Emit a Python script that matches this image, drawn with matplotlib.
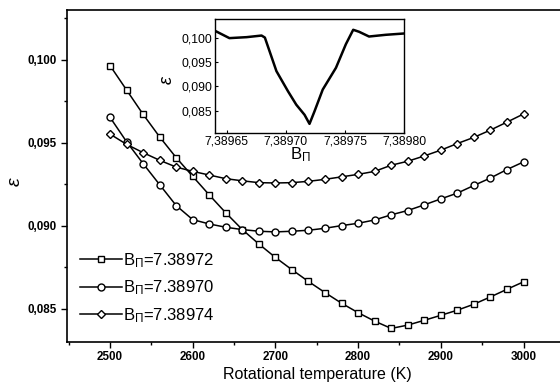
import matplotlib
matplotlib.use("Agg")
import matplotlib.pyplot as plt
from matplotlib.ticker import MultipleLocator, FuncFormatter

plt.rcParams['font.family'] = ['Liberation Sans', 'DejaVu Sans']
plt.rcParams['mathtext.fontset'] = 'custom'
plt.rcParams['mathtext.rm'] = 'Liberation Sans'
plt.rcParams['mathtext.it'] = 'Liberation Sans:italic'

temperature = list(range(2500, 3001, 20))

eps_b72 = [0.09965, 0.09818, 0.09671, 0.09535, 0.09410, 0.09297, 0.09185, 0.09077,
           0.08976, 0.08889, 0.08808, 0.08734, 0.08663, 0.08596, 0.08532, 0.08475,
           0.08424, 0.08380, 0.08400, 0.08429, 0.08459, 0.08490, 0.08526, 0.08570,
           0.08616, 0.08661]
eps_b70 = [0.09653, 0.09506, 0.09374, 0.09247, 0.09121, 0.09036, 0.09010, 0.08990,
           0.08976, 0.08966, 0.08962, 0.08966, 0.08972, 0.08984, 0.09000, 0.09014,
           0.09034, 0.09065, 0.09091, 0.09125, 0.09161, 0.09196, 0.09242, 0.09287,
           0.09338, 0.09384]
eps_b74 = [0.09552, 0.09490, 0.09440, 0.09394, 0.09353, 0.09327, 0.09305, 0.09283,
           0.09270, 0.09259, 0.09257, 0.09259, 0.09267, 0.09279, 0.09294, 0.09309,
           0.09327, 0.09364, 0.09388, 0.09420, 0.09455, 0.09495, 0.09532, 0.09576,
           0.09624, 0.09673]
labels = [r'$\mathrm{B}_{\Pi}$=7.38972', r'$\mathrm{B}_{\Pi}$=7.38970', r'$\mathrm{B}_{\Pi}$=7.38974']

inset_b = [7.389640, 7.3896522, 7.3896668, 7.3896794, 7.3896822, 7.389692, 7.3897018,
           7.3897088, 7.3897158, 7.389720, 7.3897242, 7.3897312, 7.3897424, 7.3897508,
           7.389757, 7.389762, 7.3897704, 7.3897845, 7.389800]
inset_eps = [0.10138, 0.09988, 0.10008, 0.10041, 0.10000, 0.09312, 0.08899, 0.08624,
             0.08417, 0.08231, 0.08486, 0.08934, 0.09380, 0.09864, 0.10159, 0.10118,
             0.10021, 0.10056, 0.10083]

W, H = 560, 386
fig = plt.figure(figsize=(W / 100, H / 100), dpi=100)

x0, x1 = 2448, 3080
px_per_k = 0.827
left_px, bottom_px, top_px = 67, 341.7, 10
right_px = left_px + (x1 - x0) * px_per_k
ax = fig.add_axes([left_px / W, (H - bottom_px) / H, (right_px - left_px) / W, (bottom_px - top_px) / H])
ax.spines['right'].set_visible(False)
for s in ['left', 'bottom', 'top']:
    ax.spines[s].set_linewidth(1.2)

markers = ['s', 'o', 'D']
msizes = [5, 5, 4.3]
series = [eps_b72, eps_b70, eps_b74]
for ys, m, ms, lab in zip(series, markers, msizes, labels):
    ax.plot(temperature, ys, color='black', lw=1.1, marker=m, markersize=ms,
            markerfacecolor='white', markeredgecolor='black', markeredgewidth=1.0, label=lab)

ax.set_xlim(x0, x1)
ax.set_ylim(0.0830, 0.1030)
ax.xaxis.set_major_locator(MultipleLocator(100))
ax.xaxis.set_minor_locator(MultipleLocator(50))
ax.yaxis.set_major_locator(MultipleLocator(0.005))
ax.yaxis.set_minor_locator(MultipleLocator(0.0025))
ax.yaxis.set_major_formatter(FuncFormatter(lambda v, p: f'{v:.3f}'.replace('.', ',')))
ax.tick_params(axis='both', which='major', direction='out', length=4, width=1.0,
               labelsize=8.4)
ax.tick_params(axis='x', which='major', pad=2.5)
ax.tick_params(axis='both', which='minor', direction='out', length=2.5, width=1.0)
ax.tick_params(top=False, which='both')
for t in ax.get_xticklabels() + ax.get_yticklabels():
    t.set_fontweight('bold')

leg = ax.legend(loc='upper left', bbox_to_anchor=(80 / W, (H - 251) / H),
                bbox_transform=fig.transFigure, frameon=False, fontsize=12,
                handlelength=2.5, handletextpad=0.1, labelspacing=0.53,
                borderpad=0, borderaxespad=0)

fig.text(317 / W, (H - 375) / H, 'Rotational temperature (K)', ha='center', va='center',
         fontsize=11.5)
fig.text(15 / W, (H - 182) / H, r'$\varepsilon$', ha='center', va='center',
         fontsize=14, rotation=90)

# inset
il, ir, it, ib = 215, 404, 19, 132.7
axi = fig.add_axes([il / W, (H - ib) / H, (ir - il) / W, (ib - it) / H])
axi.plot(inset_b, inset_eps, color='black', lw=1.8)
axi.set_xlim(7.389640, 7.389800)
axi.set_ylim(0.0805, 0.1038)
axi.xaxis.set_major_locator(MultipleLocator(0.00005))
axi.yaxis.set_major_locator(MultipleLocator(0.005))
axi.xaxis.set_major_formatter(FuncFormatter(lambda v, p: f'{v:.5f}'.replace('.', ',')))
axi.yaxis.set_major_formatter(FuncFormatter(lambda v, p: f'{v:.3f}'.replace('.', ',')))
axi.tick_params(direction='in', length=2, width=0.8, labelsize=8.8, pad=2)
for s in axi.spines.values():
    s.set_linewidth(1.0)
fig.text(167 / W, (H - 80) / H, r'$\varepsilon$', ha='center', va='center',
         fontsize=13, rotation=90)
fig.text(300 / W, (H - 155) / H, r'$\mathrm{B}_{\Pi}$', ha='center', va='center',
         fontsize=12)

fig.savefig('out.png', dpi=100)
